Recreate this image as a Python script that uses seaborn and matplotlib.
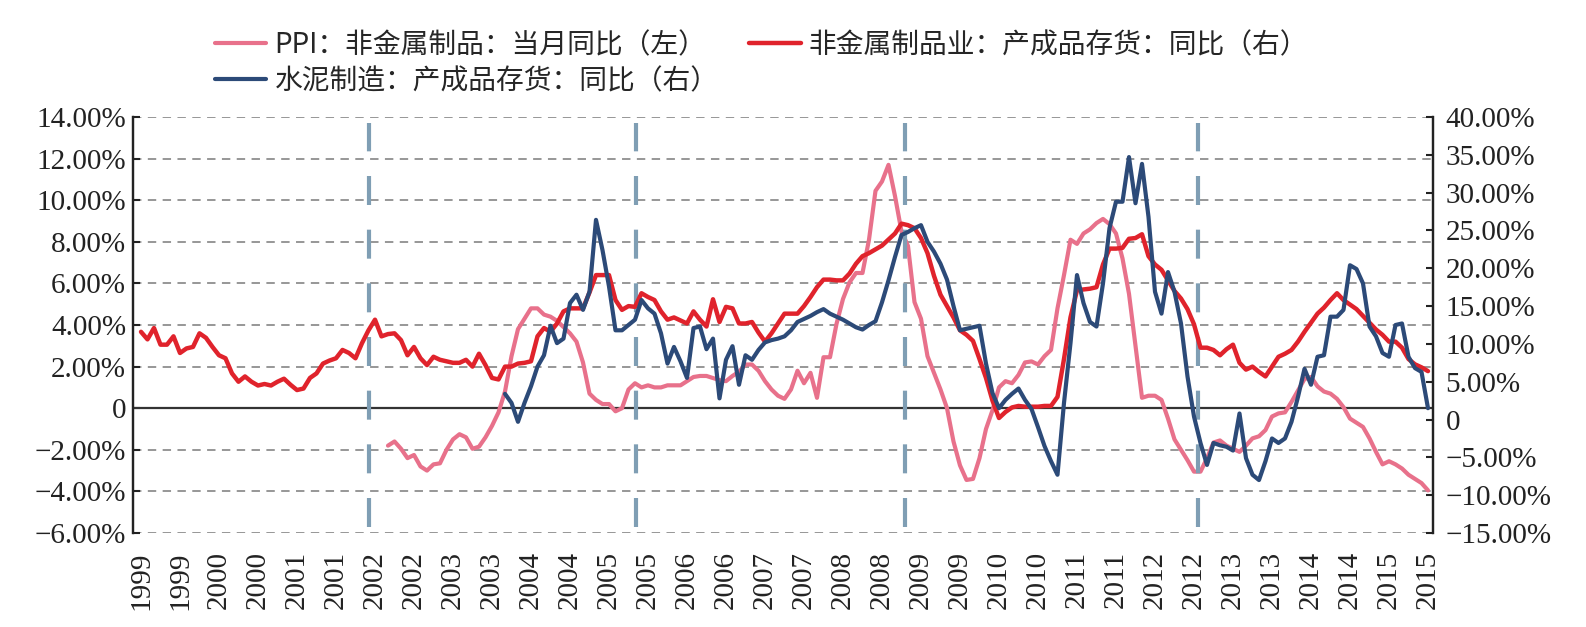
import numpy as np
import pandas as pd
import matplotlib
matplotlib.use("Agg")
import matplotlib.pyplot as plt
import seaborn as sns
from matplotlib.ticker import FuncFormatter
from matplotlib.font_manager import FontProperties

nan = np.nan

# monthly, Jan 1999 .. Jul 2015
months = pd.date_range("1999-01-01", periods=199, freq="MS")

# 非金属制品业：产成品存货：同比 (right axis, %)
inv_nonmetal = [
    11.6, 10.6, 12.1, 9.9, 9.9, 11.0, 8.8, 9.4, 9.6, 11.4,
    10.8, 9.6, 8.5, 8.1, 6.1, 5.0, 5.7, 5.0, 4.5, 4.7,
    4.5, 5.0, 5.4, 4.6, 3.9, 4.1, 5.5, 6.1, 7.4, 7.8,
    8.1, 9.2, 8.8, 8.1, 10.1, 11.8, 13.2, 11.0, 11.3, 11.4,
    10.5, 8.5, 9.6, 8.1, 7.2, 8.3, 7.9, 7.7, 7.5, 7.5,
    7.9, 7.0, 8.7, 7.2, 5.5, 5.3, 7.0, 7.0, 7.4, 7.5,
    7.7, 11.0, 12.1, 11.6, 12.7, 14.3, 14.7, 14.7, 14.7, 16.8,
    19.1, 19.1, 19.1, 15.8, 14.5, 15.0, 14.9, 16.7, 16.2, 15.8,
    14.3, 13.2, 13.5, 13.1, 12.7, 14.3, 13.2, 12.3, 15.9, 12.9,
    14.9, 14.7, 12.7, 12.7, 12.9, 11.5, 10.3, 11.4, 12.7, 14.0,
    14.0, 14.0, 15.0, 16.2, 17.5, 18.5, 18.5, 18.4, 18.4, 19.3,
    20.6, 21.6, 22.0, 22.5, 23.0, 23.8, 24.6, 25.9, 25.7, 25.3,
    24.0, 22.0, 19.0, 16.5, 15.0, 13.5, 11.8, 11.2, 10.4, 8.0,
    5.5, 2.5, 0.2, 1.0, 1.6, 1.8, 1.7, 1.7, 1.7, 1.8,
    1.8, 3.0, 8.0, 13.5, 17.1, 17.2, 17.3, 17.5, 20.5, 22.6,
    22.6, 22.7, 23.9, 24.0, 24.5, 21.6, 20.5, 19.8, 18.4, 17.0,
    16.0, 14.6, 12.6, 9.5, 9.5, 9.2, 8.5, 9.3, 9.9, 7.5,
    6.6, 7.0, 6.3, 5.7, 7.0, 8.3, 8.7, 9.2, 10.3, 11.6,
    12.8, 14.0, 14.8, 15.8, 16.7, 15.8, 15.2, 14.6, 13.7, 12.8,
    11.9, 11.2, 10.3, 10.3, 9.5, 8.0, 7.3, 6.9, 6.4,
]

# PPI：非金属制品：当月同比 (left axis, %), starts Mar 2002
ppi_start = "2002-03-01"
ppi_nonmetal = [
    -1.8, -1.6,
    -1.95, -2.4, -2.25, -2.8, -3.0, -2.7, -2.65, -2.0, -1.5, -1.25,
    -1.4, -1.95, -1.85, -1.4, -0.85, -0.2, 0.8, 2.5, 3.8, 4.3,
    4.8, 4.8, 4.5, 4.4, 4.2, 3.9, 3.6, 3.2, 2.2, 0.7,
    0.4, 0.2, 0.2, -0.15, 0.0, 0.9, 1.2, 1.0, 1.1, 1.0,
    1.0, 1.1, 1.1, 1.1, 1.3, 1.5, 1.55, 1.55, 1.45, 1.35,
    1.3, 1.55, 1.75, 2.1, 2.1, 1.8, 1.3, 0.9, 0.6, 0.45,
    0.9, 1.8, 1.2, 1.7, 0.5, 2.45, 2.45, 4.05, 5.25, 6.05,
    6.5, 6.5, 8.1, 10.45, 10.9, 11.7, 10.2, 8.5, 7.8, 5.1,
    4.3, 2.5, 1.7, 0.9, 0.0, -1.6, -2.75, -3.45, -3.4, -2.4,
    -1.0, -0.1, 1.0, 1.3, 1.2, 1.6, 2.2, 2.25, 2.1, 2.5,
    2.8, 4.8, 6.4, 8.1, 7.9, 8.4, 8.6, 8.9, 9.1, 8.85,
    8.4, 7.2, 5.5, 3.0, 0.5, 0.6, 0.6, 0.4, -0.5, -1.5,
    -2.0, -2.5, -3.05, -3.05, -2.4, -1.65, -1.55, -1.8, -1.95, -2.1,
    -1.8, -1.45, -1.35, -1.05, -0.4, -0.25, -0.2, 0.3, 0.85, 1.4,
    1.5, 1.05, 0.8, 0.7, 0.45, 0.05, -0.5, -0.7, -0.9, -1.45,
    -2.1, -2.7, -2.55, -2.7, -2.9, -3.2, -3.4, -3.6, -3.95,
]

# 水泥制造：产成品存货：同比 (right axis, %), starts Sep 2003
cement_start = "2003-09-01"
inv_cement = [
    3.4, 2.2, -0.3, 2.2,
    4.4, 7.0, 8.5, 12.4, 10.1, 10.7, 15.4, 16.5, 14.5, 16.9,
    26.4, 22.4, 17.6, 11.8, 11.8, 12.5, 13.2, 15.8, 14.7, 14.0,
    11.4, 7.4, 9.6, 7.7, 5.5, 12.1, 12.3, 9.3, 10.7, 2.8,
    7.9, 9.7, 4.6, 8.5, 7.9, 9.2, 10.2, 10.5, 10.7, 11.0,
    11.8, 12.9, 13.3, 13.7, 14.2, 14.6, 14.0, 13.6, 13.2, 12.7,
    12.2, 11.9, 12.5, 13.0, 15.5, 18.4, 21.5, 24.4, 24.8, 25.3,
    25.7, 23.5, 22.2, 20.6, 18.5, 15.0, 11.8, 12.0, 12.2, 12.4,
    7.4, 3.5, 1.5, 2.6, 3.4, 4.1, 2.6, 1.4, -1.0, -3.5,
    -5.5, -7.3, 2.2, 10.1, 19.1, 15.4, 12.9, 12.3, 18.0, 25.3,
    28.8, 28.8, 34.7, 28.6, 33.8, 26.8, 16.9, 14.0, 19.5, 16.9,
    12.7, 5.7, 0.4, -3.1, -6.0, -3.1, -3.4, -3.6, -4.1, 0.8,
    -5.1, -7.3, -8.0, -5.5, -2.5, -3.1, -2.5, -0.3, 3.0, 6.7,
    4.6, 8.3, 8.5, 13.6, 13.6, 14.5, 20.4, 19.9, 18.0, 12.3,
    11.0, 8.8, 8.3, 12.5, 12.7, 8.3, 6.8, 6.3, 1.5,
]

# dashed cycle markers (month position)
cycle_marks = [35.1, 76.2, 117.5, 162.6]

labels = [
    "PPI：非金属制品：当月同比（左）",
    "非金属制品业：产成品存货：同比（右）",
    "水泥制造：产成品存货：同比（右）",
]
colors = {"ppi": "#E8718B", "nonmetal": "#E0232C", "cement": "#2C4A78"}


def build_frame():
    df = pd.DataFrame({"month": months, "pos": np.arange(len(months))})
    df["nonmetal"] = inv_nonmetal
    ppi = pd.Series(ppi_nonmetal,
                    index=pd.date_range(ppi_start, periods=len(ppi_nonmetal), freq="MS"))
    cem = pd.Series(inv_cement,
                    index=pd.date_range(cement_start, periods=len(inv_cement), freq="MS"))
    df["ppi"] = df["month"].map(ppi)
    df["cement"] = df["month"].map(cem)
    return df


def pct(v, _):
    if abs(v) < 1e-9:
        return "0"
    return f"{v:.2f}%".replace("-", "\u2212")


def main():
    df = build_frame()

    sns.set_theme(style="white")
    plt.rcParams["font.family"] = ["Liberation Serif", "Noto Sans CJK SC"]
    plt.rcParams["axes.unicode_minus"] = True

    fig = plt.figure(figsize=(15.86, 6.27), dpi=100)
    ax = fig.add_axes([133 / 1586, 1 - 533 / 627, 1300 / 1586, 416 / 627])
    ax2 = ax.twinx()

    # grid + zero line
    ax.set_ylim(-6, 14)
    ax.set_yticks(np.arange(-6, 14.01, 2))
    ax.yaxis.grid(True, color="#7a7a7a", lw=1.1, linestyle=(0, (5.5, 4.2)))
    ax.set_axisbelow(True)
    ax.axhline(0, color="#333333", lw=1.6, zorder=2)

    sns.lineplot(data=df, x="pos", y="ppi", ax=ax, color=colors["ppi"], lw=3.0)
    ppi_line = ax.lines[-1]
    for m in cycle_marks:
        ax.axvline(m, ymin=0.0144, ymax=0.9856, color="#7F9EB4", lw=3,
                   linestyle=(0, (6.96, 5.92)), zorder=3)

    sns.lineplot(data=df, x="pos", y="nonmetal", ax=ax2, color=colors["nonmetal"], lw=3.2)
    nonmetal_line = ax2.lines[-1]
    sns.lineplot(data=df, x="pos", y="cement", ax=ax2, color=colors["cement"], lw=3.0)
    cement_line = ax2.lines[-1]

    ax2.set_ylim(-15, 40)
    ax2.set_yticks(np.arange(-15, 40.01, 5))
    ax.set_xlim(-1.23, 198.77)

    ticks = np.arange(0, len(months), 6)
    ax.set_xticks(ticks)
    ax.set_xticklabels([str(months[t].year) for t in ticks], rotation=90)
    ax.yaxis.set_major_formatter(FuncFormatter(pct))
    ax2.yaxis.set_major_formatter(FuncFormatter(pct))

    for a in (ax, ax2):
        a.set_xlabel("")
        a.set_ylabel("")
        for s in ("top", "bottom"):
            a.spines[s].set_visible(False)
        a.spines["left"].set_color("#222222")
        a.spines["right"].set_color("#222222")
        a.spines["left"].set_linewidth(1.6)
        a.spines["right"].set_linewidth(1.6)

    ax.tick_params(axis="y", direction="in", length=5, width=1.5, pad=5,
                   labelsize=21, colors="#222222")
    ax2.tick_params(axis="y", direction="in", length=5, width=1.5, pad=9,
                    labelsize=21, colors="#222222")
    ax.tick_params(axis="x", length=0, pad=13, labelsize=21, colors="#222222")

    # column-major fill: pink + navy in column 1, red in column 2
    handles = [ppi_line, cement_line, nonmetal_line]
    leg_labels = [labels[0], labels[2], labels[1]]
    fig.legend(handles, leg_labels, ncol=2, loc="upper left",
               bbox_to_anchor=(215 / 1586, 1 - 30 / 627), frameon=False,
               prop=FontProperties(family=["Noto Sans CJK SC", "DejaVu Sans"], size=20),
               handlelength=1.85, handletextpad=0.3, columnspacing=1.1,
               labelspacing=0.22, borderpad=0, borderaxespad=0)

    fig.savefig("out.png", dpi=100)


if __name__ == "__main__":
    main()
